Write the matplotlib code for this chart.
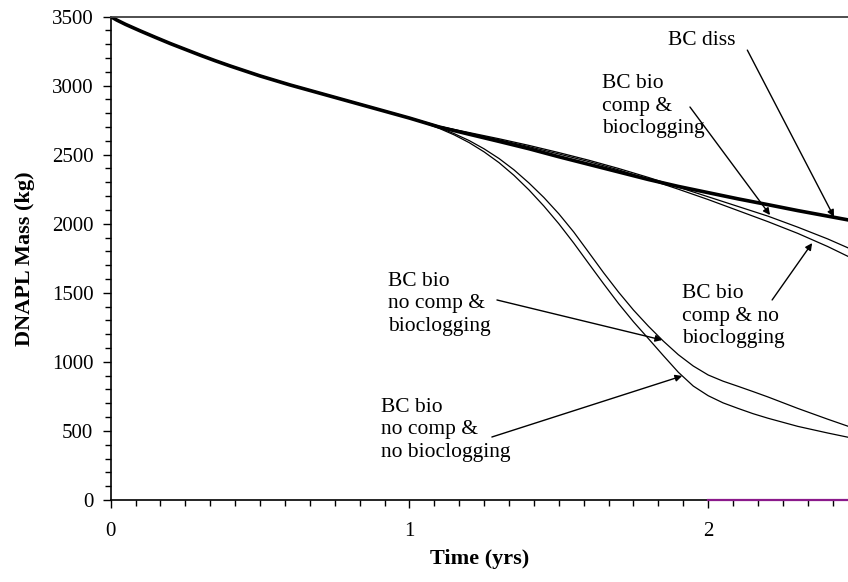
import numpy as np
import matplotlib
matplotlib.use('Agg')
import matplotlib.pyplot as plt
from matplotlib.ticker import MultipleLocator

plt.rcParams['font.family'] = ['Liberation Serif', 'DejaVu Serif']

# time (yrs) and DNAPL mass (kg)
t_diss = [0, 0.02, 0.05, 0.1, 0.15, 0.2, 0.25, 0.3, 0.35, 0.4, 0.5, 0.6, 0.7,
          0.8, 0.9, 1.0, 1.1, 1.2, 1.3, 1.4, 1.5, 1.6, 1.7, 1.8, 1.9, 2.0,
          2.1, 2.2, 2.3, 2.4, 2.5]
m_diss = [3500, 3475, 3443, 3395, 3349, 3304, 3262, 3220, 3180, 3142, 3070,
          3005, 2945, 2885, 2825, 2765, 2700, 2648, 2596, 2543, 2485, 2430,
          2375, 2320, 2270, 2225, 2180, 2138, 2095, 2055, 2015]

t_comp = [0, 0.02, 0.05, 0.1, 0.15, 0.2, 0.25, 0.3, 0.35, 0.4, 0.5, 0.6, 0.7,
          0.8, 0.9, 1.0, 1.1, 1.2, 1.3, 1.4, 1.5, 1.6, 1.7, 1.8, 1.9, 2.0,
          2.1, 2.2, 2.3, 2.4, 2.5]
m_comp_clog = [3500, 3477, 3446, 3398, 3352, 3307, 3265, 3223, 3183, 3145,
               3073, 3008, 2948, 2888, 2828, 2768, 2705, 2660, 2615, 2567,
               2515, 2460, 2400, 2335, 2265, 2195, 2125, 2055, 1975, 1890,
               1795]
m_comp_noclog = [3500, 3476, 3445, 3397, 3351, 3306, 3264, 3222, 3182, 3144,
                 3072, 3007, 2947, 2887, 2827, 2767, 2705, 2655, 2608, 2558,
                 2505, 2450, 2390, 2322, 2250, 2175, 2095, 2015, 1930, 1835,
                 1730]

t_nocomp = [0, 0.02, 0.05, 0.1, 0.15, 0.2, 0.25, 0.3, 0.35, 0.4, 0.5, 0.6,
            0.7, 0.8, 0.9, 1.0, 1.05, 1.1, 1.15, 1.2, 1.25, 1.3, 1.35, 1.4,
            1.45, 1.5, 1.55, 1.6, 1.65, 1.7, 1.75, 1.8, 1.85, 1.9, 1.95, 2.0,
            2.05, 2.1, 2.15, 2.2, 2.3, 2.4, 2.5]
m_nocomp_clog = [3500, 3475, 3443, 3395, 3349, 3304, 3262, 3220, 3180, 3142,
                 3070, 3005, 2945, 2885, 2825, 2765, 2732, 2695, 2652, 2602,
                 2542, 2472, 2390, 2295, 2190, 2072, 1940, 1793, 1645, 1505,
                 1375, 1258, 1150, 1052, 970, 905, 860, 823, 785, 746, 663,
                 585, 510]
m_nocomp_noclog = [3500, 3475, 3443, 3395, 3349, 3304, 3262, 3220, 3180, 3142,
                   3070, 3005, 2945, 2885, 2825, 2765, 2730, 2690, 2643, 2587,
                   2520, 2442, 2350, 2245, 2128, 2000, 1860, 1712, 1565, 1422,
                   1290, 1168, 1045, 925, 825, 755, 703, 663, 625, 592, 533,
                   485, 440]

t_zero = [2.0, 2.5]
m_zero = [0, 0]

fig = plt.figure(figsize=(8.48, 5.82), dpi=100)
ax = fig.add_axes([0.1305, 0.1409, 0.8695, 0.8307])

ax.plot(t_diss, m_diss, 'k-', lw=2.6)
ax.plot(t_comp, m_comp_clog, 'k-', lw=0.9)
ax.plot(t_comp, m_comp_noclog, 'k-', lw=0.9)
ax.plot(t_nocomp, m_nocomp_clog, 'k-', lw=0.9)
ax.plot(t_nocomp, m_nocomp_noclog, 'k-', lw=0.9)
ax.plot(t_zero, m_zero, '-', color='#8b1a8b', lw=1.6, clip_on=False, zorder=5)

ax.set_xlim(0, 2.468)
ax.set_ylim(0, 3500)
ax.xaxis.set_major_locator(MultipleLocator(1))
ax.xaxis.set_minor_locator(MultipleLocator(1/12))
ax.yaxis.set_major_locator(MultipleLocator(500))
ax.yaxis.set_minor_locator(MultipleLocator(100))
ax.tick_params(which='major', direction='out', length=5.5, width=1, labelsize=15)
ax.tick_params(which='minor', direction='out', length=4, width=1)
ax.tick_params(axis='x', which='major', pad=10)
ax.tick_params(axis='y', which='major', pad=7)

ax.spines['right'].set_visible(False)
ax.spines['top'].set_color('#404040')
ax.spines['top'].set_linewidth(1.3)
ax.spines['left'].set_linewidth(1.2)
ax.spines['bottom'].set_linewidth(1.2)

ax.set_xlabel('Time (yrs)', fontsize=16, fontweight='bold', labelpad=6)
ax.set_ylabel('DNAPL Mass (kg)', fontsize=16, fontweight='bold', labelpad=12)

arw = dict(arrowstyle='-|>', color='k', lw=1, mutation_scale=10,
           shrinkA=0, shrinkB=0)
fs = 15.5
ax.text(1.865, 3330, 'BC diss', fontsize=fs, va='center')
ax.annotate('', xy=(2.421, 2050), xytext=(2.131, 3257), arrowprops=arw)

ax.text(1.645, 2852, 'BC bio\ncomp &\nbioclogging', fontsize=fs, va='center',
        linespacing=1.25)
ax.annotate('', xy=(2.207, 2063), xytext=(1.939, 2845), arrowprops=arw)

ax.text(1.913, 1332, 'BC bio\ncomp & no\nbioclogging', fontsize=fs,
        va='center', linespacing=1.25)
ax.annotate('', xy=(2.348, 1860), xytext=(2.214, 1448), arrowprops=arw)

ax.text(0.928, 1419, 'BC bio\nno comp &\nbioclogging', fontsize=fs,
        va='center', linespacing=1.25)
ax.annotate('', xy=(1.846, 1158), xytext=(1.293, 1448), arrowprops=arw)

ax.text(0.905, 507, 'BC bio\nno comp &\nno bioclogging', fontsize=fs,
        va='center', linespacing=1.25)
ax.annotate('', xy=(1.913, 898), xytext=(1.276, 456), arrowprops=arw)

fig.savefig('out.png', dpi=100)
